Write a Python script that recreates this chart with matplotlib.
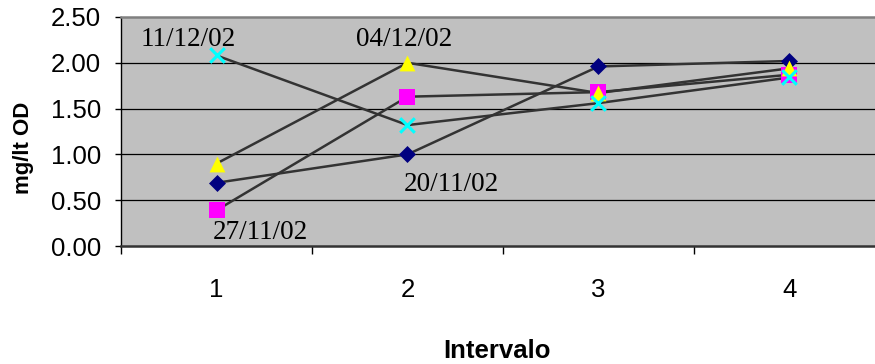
import matplotlib
matplotlib.use("Agg")
import matplotlib.pyplot as plt

categories = [1, 2, 3, 4]
tick_labels = ["1", "2", "3", "4"]
s_20_11 = [0.69, 1.00, 1.96, 2.02]
s_27_11 = [0.39, 1.63, 1.68, 1.87]
s_04_12 = [0.90, 2.00, 1.67, 1.94]
s_11_12 = [2.08, 1.32, 1.56, 1.84]
series_names = ["20/11/02", "27/11/02", "04/12/02", "11/12/02"]
y_ticks = [0.0, 0.5, 1.0, 1.5, 2.0, 2.5]

W, H = 875, 364
fig = plt.figure(figsize=(W / 100, H / 100), dpi=100)
fig.patch.set_facecolor("white")
ax = fig.add_axes([121 / W, (H - 246) / H, 764 / W, 229 / H])
ax.set_facecolor("#C0C0C0")

ax.set_xlim(0.5, 4.5)
ax.set_ylim(0, 2.5)

for y in y_ticks[1:-1]:
    ax.axhline(y, color="black", lw=0.9, zorder=1)

line_kw = dict(color="#333333", lw=1.8, zorder=2)
ax.plot(categories, s_20_11, **line_kw)
ax.plot(categories, s_27_11, **line_kw)
ax.plot(categories, s_04_12, **line_kw)
ax.plot(categories, s_11_12, **line_kw)
ax.scatter(categories, s_20_11, marker="D", s=75, color="#000080", zorder=3, linewidths=0)
ax.scatter(categories, s_27_11, marker="s", s=130, color="#FF00FF", zorder=4, linewidths=0)
ax.scatter(categories, s_04_12, marker="^", s=130, color="#FFFF00", zorder=5, linewidths=0)
ax.scatter(categories, s_11_12, marker="x", s=110, color="#00FFFF", zorder=6, linewidths=2.2)

serif = dict(family="Liberation Serif", fontsize=19.5, color="black", ha="center", va="center")
ax.text(0.85, 2.25, series_names[3], **serif)
ax.text(1.98, 2.25, series_names[2], **serif)
ax.text(2.23, 0.67, series_names[0], **serif)
ax.text(1.23, 0.15, series_names[1], **serif)

ax.set_yticks(y_ticks)
ax.set_yticklabels([f"{v:.2f}" for v in y_ticks], fontsize=18.5, family="Liberation Sans")
ax.set_xticks([0.5, 1.5, 2.5, 3.5, 4.5])
ax.set_xticklabels([])
ax.set_xticks(categories, minor=True)
ax.set_xticklabels(tick_labels, minor=True, fontsize=18.5, family="Liberation Sans")
ax.tick_params(axis="x", which="major", direction="out", length=6, width=1, color="black")
ax.tick_params(axis="x", which="minor", length=0, pad=23)
ax.tick_params(axis="y", direction="out", length=4.5, width=1, pad=10)

for side in ["top", "right"]:
    ax.spines[side].set_color("#808080")
    ax.spines[side].set_linewidth(1.8)
ax.spines["left"].set_color("black")
ax.spines["left"].set_linewidth(1.0)
ax.spines["bottom"].set_color("#333333")
ax.spines["bottom"].set_linewidth(1.8)

fig.text(497 / W, (H - 351) / H, "Intervalo", fontsize=18.5, fontweight="bold",
         family="Liberation Sans", ha="center", va="center")
fig.text(24 / W, (H - 148) / H, "mg/lt OD", fontsize=16, fontweight="bold",
         family="Liberation Sans", ha="center", va="center", rotation=90)

fig.savefig("out.png", dpi=100)
